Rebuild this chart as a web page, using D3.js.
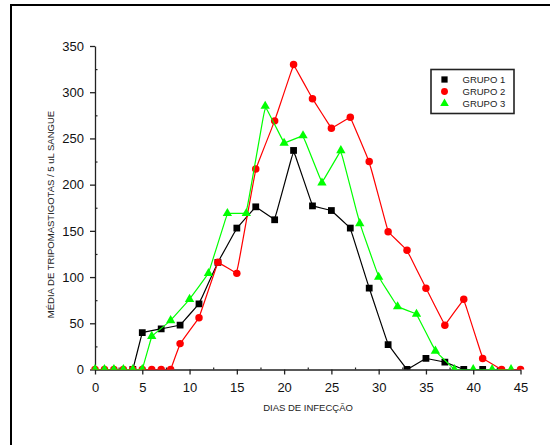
<!DOCTYPE html>
<html><head><meta charset="utf-8">
<script src="https://cdn.jsdelivr.net/npm/d3@7"></script>
<style>body{margin:0;background:#fff}svg{display:block}text{font-family:"Liberation Sans",Arial,sans-serif}</style>
</head><body>
<svg id="c" width="550" height="445"></svg>
<script>
// ---- data ----
const g1Days = [4,5,7,9,11,13,15,17,19,21,23,25,27,29,31,33,35,37,39,41];
const g1Vals = [0,40,44,48,71,116,153,176,162,237,177,172,153,88,27,0,12,8,0,0];
const g2Days = [0,1,2,3,4,5,6,7,8,9,11,13,15,17,19,21,23,25,27,29,31,33,35,37,39,41,43,45];
const g2Vals = [0,0,0,0,0,0,0,0,0,28,56,116,104,217,269,330,293,261,273,225,149,129,88,48,76,12,0,0];
const g3Days = [0,1,2,3,4,5,6,8,10,12,14,16,18,20,22,24,26,28,30,32,34,36,38,40,42,44];
const g3Vals = [0,0,0,0,0,0,36,53,76,104,169,169,285,245,253,202,237,158,100,68,60,20,0,0,0,0];
const seriesNames = ["GRUPO 1","GRUPO 2","GRUPO 3"];
const xTicks = [0,5,10,15,20,25,30,35,40,45];
const yTicks = [0,50,100,150,200,250,300,350];
const xTitle = "DIAS DE INFECÇÃO";
const yTitle = "MÉDIA DE TRIPOMASTIGOTAS / 5 uL SANGUE";

const colors = ["#000000","#ff0000","#00ff00"];
const shapes = [d3.symbolSquare, d3.symbolCircle, d3.symbolTriangle];
const sizes = [46, 44, 38];

const svg = d3.select("#c");
svg.append("rect").attr("width",550).attr("height",445).attr("fill","#fff");
// outer frame (top and left visible)
svg.append("rect").attr("x",11).attr("y",5).attr("width",600).attr("height",600)
  .attr("fill","none").attr("stroke","#000").attr("stroke-width",2);

const x = d3.scaleLinear().domain([0,45]).range([95,520.5]);
const y = d3.scaleLinear().domain([0,350]).range([369.5,46]);

svg.append("defs").append("clipPath").attr("id","clip")
  .append("rect").attr("x",0).attr("y",0).attr("width",550).attr("height",369.5);

// minor ticks
const yMinor = d3.range(25,350,50);
const xMinor = d3.range(2.5,45,5);
svg.append("g").attr("transform",`translate(95,0)`)
  .call(d3.axisLeft(y).tickValues(yMinor).tickSize(-2.5).tickFormat(""))
  .call(g=>g.select(".domain").remove())
  .selectAll("line").attr("stroke","#222").attr("stroke-width",1.2);
svg.append("g").attr("transform",`translate(0,369.5)`)
  .call(d3.axisBottom(x).tickValues(xMinor).tickSize(-2).tickFormat(""))
  .call(g=>g.select(".domain").remove())
  .selectAll("line").attr("stroke","#222").attr("stroke-width",1.2);

// major axes
const yAxis = svg.append("g").attr("transform",`translate(95,0)`)
  .call(d3.axisLeft(y).tickValues(yTicks).tickSize(5).tickPadding(6).tickSizeOuter(0));
const xAxis = svg.append("g").attr("transform",`translate(0,369.5)`)
  .call(d3.axisBottom(x).tickValues(xTicks).tickSize(5).tickPadding(8).tickSizeOuter(0));
[yAxis,xAxis].forEach(a=>{
  a.select(".domain").attr("stroke","#222").attr("stroke-width",1.3);
  a.selectAll(".tick line").attr("stroke","#222").attr("stroke-width",1.3);
  a.selectAll("text").attr("font-size",13).attr("fill","#111")
   .attr("font-family",'"Liberation Sans",Arial,sans-serif');
});

// axis titles
svg.append("text").attr("x",308).attr("y",411).attr("text-anchor","middle")
  .attr("font-size",9.5).attr("fill","#222").text(xTitle);
svg.append("text").attr("transform","translate(54,214.5) rotate(-90)")
  .attr("text-anchor","middle").attr("font-size",9.5).attr("fill","#222").text(yTitle);

// B-spline with each control point taken twice (matches original smoothing)
function curveDoubleBasis(ctx){
  const b = d3.curveBasis(ctx);
  return {
    areaStart(){b.areaStart();}, areaEnd(){b.areaEnd();},
    lineStart(){b.lineStart();}, lineEnd(){b.lineEnd();},
    point(px,py){b.point(px,py); b.point(px,py);}
  };
}

const series = [
  {days:g1Days, vals:g1Vals},
  {days:g2Days, vals:g2Vals},
  {days:g3Days, vals:g3Vals}
];
const plot = svg.append("g").attr("clip-path","url(#clip)");
const line = d3.line().x(d=>x(d[0])).y(d=>y(d[1])).curve(curveDoubleBasis);
series.forEach((s,i)=>{
  const pts = s.days.map((d,j)=>[d,s.vals[j]]);
  plot.append("path").datum(pts).attr("d",line).attr("fill","none")
    .attr("stroke",colors[i]).attr("stroke-width",1.2);
  plot.selectAll(null).data(pts).enter().append("path")
    .attr("transform",d=>`translate(${x(d[0])},${y(d[1])})`)
    .attr("d",d3.symbol().type(shapes[i]).size(sizes[i]))
    .attr("fill",colors[i]);
});

// legend
const lg = svg.append("g");
lg.append("rect").attr("x",431).attr("y",69.5).attr("width",83).attr("height",44)
  .attr("fill","#fff").attr("stroke","#222").attr("stroke-width",1.6);
seriesNames.forEach((n,i)=>{
  const yy = 79.5 + i*12;
  lg.append("path").attr("transform",`translate(444.5,${yy})`)
    .attr("d",d3.symbol().type(shapes[i]).size(sizes[i]*0.85)).attr("fill",colors[i]);
  lg.append("text").attr("x",462.5).attr("y",yy+3.6).attr("font-size",9.5)
    .attr("fill","#222").text(n);
});
</script>
</body></html>
